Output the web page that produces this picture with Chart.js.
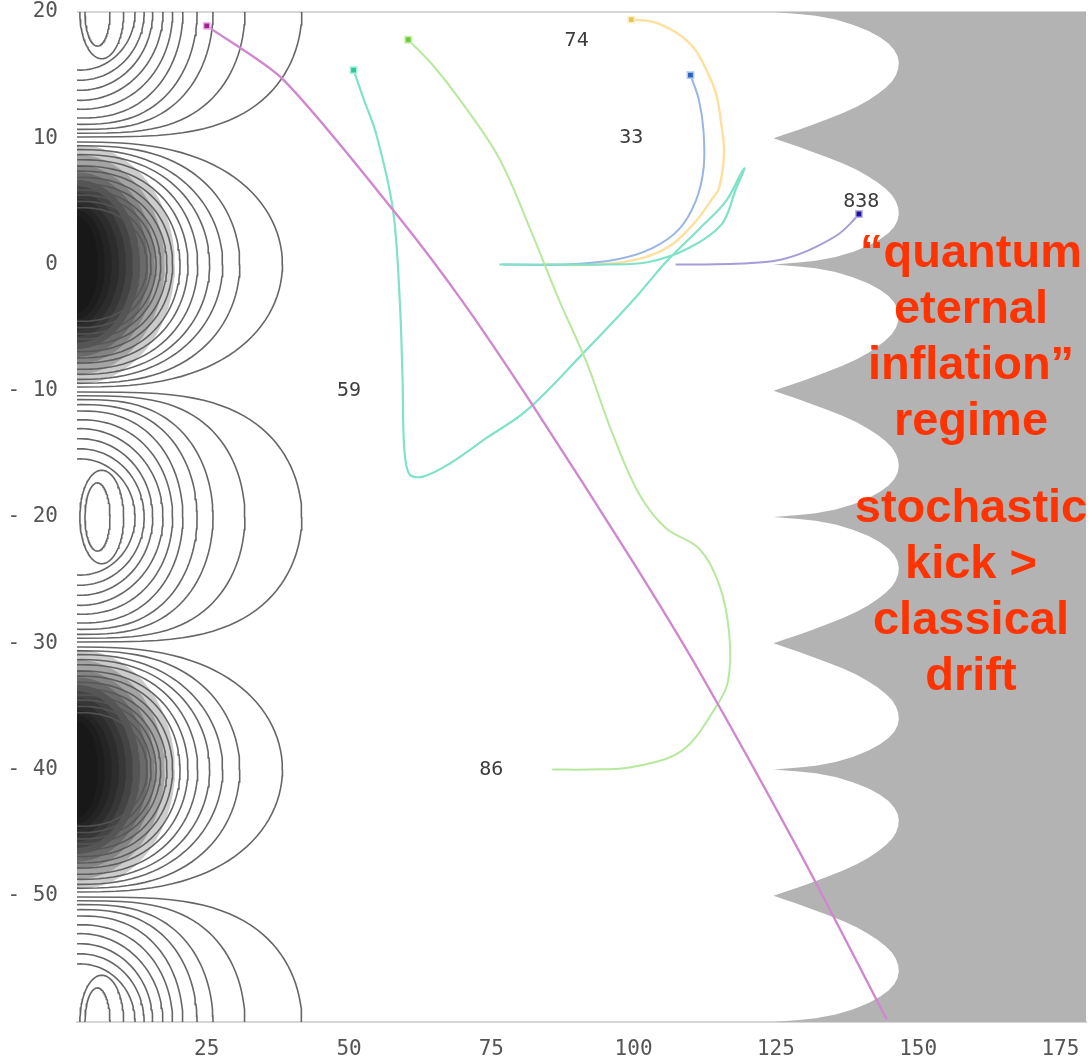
<!DOCTYPE html>
<html>
<head>
<meta charset="utf-8">
<script src="https://cdn.jsdelivr.net/npm/chart.js@4.4.1/dist/chart.umd.min.js"></script>
<style>
  body { margin: 0; background: #fff; }
  .wrap { position: relative; width: 1092px; height: 1063px; }
  canvas { position: absolute; left: 0; top: 0; }
  .note {
    position: absolute; left: 851px; width: 240px; text-align: center;
    font-family: "Liberation Sans", Arial, sans-serif; font-weight: bold;
    font-size: 47px; line-height: 56px; color: #ff3300;
  }
</style>
</head>
<body>
<div class="wrap">
  <canvas id="myChart" width="1092" height="1063"></canvas>
  <div class="note" style="top:223px">“quantum<br>eternal<br>inflation”<br>regime</div>
  <div class="note" style="top:478px">stochastic<br>kick &gt;<br>classical<br>drift</div>
</div>
<script>
// axes
const xTicks = [25, 50, 75, 100, 125, 150, 175];
const yTicks = [-50, -40, -30, -20, -10, 0, 10, 20];
const yTickLabels = ['- 50', '- 40', '- 30', '- 20', '- 10', '0', '10', '20'];

// trajectories
const magX = [25, 38.3, 58.3, 69.9, 82.2, 99.8, 111.5, 129, 144.5];
const magY = [18.9, 14.7, 4, -2.9, -11.1, -23.5, -32.2, -46.4, -59.8];

const greenX = [60.4, 64.7, 69.4, 76.4, 82.2, 86.9, 91.7, 96.3, 101, 105.7, 111.5, 115, 116.8, 116.6, 114.4, 108.5, 99.8, 92, 85.7];
const greenY = [17.8, 15.8, 13.1, 8.4, 2.4, -2.8, -7.7, -13.4, -18.2, -20.9, -22.5, -25.3, -29.2, -33, -35.1, -38.5, -39.8, -40, -40];

const cyanX = [50.8, 52.5, 54.8, 57.7, 58.9, 59.4, 59.7, 60.6, 63, 67.6, 74.3, 81.1, 91, 99.8, 105.7, 111.5, 116.2, 119, 119.5, 118, 115.5, 109.7, 102.7, 95, 86, 76.4];
const cyanY = [15.4, 13.2, 10.3, 4.4, -2.7, -9, -14.5, -16.6, -16.8, -15.8, -13.7, -11.6, -7.1, -2.9, 0.2, 2.8, 5, 7.3, 7.6, 6, 3.2, 1.3, 0.2, 0, 0, 0];

const blueX = [110, 111.5, 112.3, 112.3, 110.9, 108, 103.3, 97, 88, 77];
const blueY = [15, 13, 10.5, 7.6, 5, 2.8, 1.3, 0.4, 0, 0];

const orangeX = [99.6, 103.5, 107.4, 110.5, 112.7, 114.5, 115.3, 115.9, 115, 113.8, 110.9, 106.8, 101.5, 94, 84];
const orangeY = [19.4, 19.2, 18.4, 17.2, 15.5, 13.5, 11.5, 8.9, 6, 5.2, 3.4, 1.6, 0.5, 0, 0];

const purpleX = [139.6, 138, 136, 132.5, 129, 126, 123.2, 118, 111.5, 107.4];
const purpleY = [4, 3.2, 2.4, 1.5, 0.8, 0.4, 0.2, 0.05, 0, 0];

const pathLabels = ['74', '33', '59', '86', '838'];
const pathLabelX = [90, 99.6, 50, 75, 140];
const pathLabelY = [17.7, 10, -10, -40, 5];

// potential contours, one lobe every 20 units
const lobeY = [20, 0, -20, -40, -60];
const lobeDark = [false, true, false, true, false];

const lightLeft  = [3.6, 2.7, -6.8, -8.4, -9.9, -11.7, -13.4, -15.2, -17.7, -20.5, -26.1, -36.1];
const lightRight = [8.0, 10.4, 12.4, 14.0, 15.5, 17.3, 19.0, 20.8, 23.3, 26.1, 31.7, 41.7];
const lightHalf  = [2.7, 3.7, 4.6, 5.4, 6.2, 7.0, 7.7, 8.4, 8.9, 9.3, 9.6, 9.9];
const lightPow   = [2, 2, 2, 2, 2, 2, 2.2, 2.4, 2.6, 2.8, 3.2, 3.5];

const darkRight = [38.3, 30.8, 27.8, 25.5, 23.4, 21.7, 20.3, 19.0, 18.0, 16.9, 16.1, 15.2, 14.5];
const darkHalf  = [9.7, 9.4, 9.1, 8.7, 8.3, 7.8, 7.4, 6.9, 6.4, 5.9, 5.5, 5.0, 4.5];

const shadeRight = [19.4, 17.6, 15.9, 14.7, 13.3, 12.0, 10.8, 9.6, 8.3, 7.1, 5.9];
const shadeHalf  = [9.5, 8.7, 7.9, 7.3, 6.7, 6.2, 5.7, 5.2, 4.7, 4.3, 3.8];

// grey region edge: one half period, from a wide spike (0) to a needle spike (10)
const edgeStep = [0, 0.3, 0.6, 1, 1.5, 2, 2.5, 3, 3.5, 4, 4.5, 5, 5.5, 6, 6.5, 7, 7.5, 8, 8.5, 9, 9.4, 9.7, 9.85, 10];
const edgeX = [124.6, 126.5, 128.5, 131, 134, 136.8, 139.2, 141.2, 142.9, 144.3, 145.4, 146.1, 146.5, 146.6, 146.4, 145.8, 144.8, 143.3, 141.3, 138.5, 135.5, 132, 129, 124.6];
const wedgeY = [10, -10, -30, -50];


const CX = 2.8;

function ring(left, right, cy, b, p) {
  const cx = (left + right) / 2, a = (right - left) / 2;
  const pts = [];
  for (let k = 0; k <= 120; k++) {
    const t = k / 120 * Math.PI * 2;
    const c = Math.cos(t);
    pts.push({ x: cx + a * Math.sign(c) * Math.pow(Math.abs(c), 2 / p), y: cy + b * Math.sin(t) });
  }
  return pts;
}

function zip(xs, ys) {
  return xs.map((v, i) => ({ x: v, y: ys[i] }));
}

// grey region
const greyPts = [{ x: 185, y: 20 }];
wedgeY.forEach(w => {
  for (let i = edgeStep.length - 1; i >= 0; i--) greyPts.push({ x: edgeX[i], y: w + edgeStep[i] });
  for (let i = 1; i < edgeStep.length; i++) greyPts.push({ x: edgeX[i], y: w - edgeStep[i] });
});
greyPts.push({ x: 185, y: -60 });

const datasets = [];
datasets.push({
  data: greyPts, showLine: true, fill: 'shape', backgroundColor: '#b3b3b3',
  borderWidth: 0, pointRadius: 0, tension: 0, order: 100
});

lobeY.forEach((cy, i) => {
  if (lobeDark[i]) {
    shadeRight.forEach((r, j) => {
      datasets.push({
        data: ring(2.2 - (r - 2.2), r, cy, shadeHalf[j], 2), showLine: true, fill: 'shape',
        backgroundColor: 'rgba(0,0,0,0.2)', borderWidth: 0, pointRadius: 0, tension: 0, order: 90
      });
    });
    darkRight.forEach((r, j) => {
      datasets.push({
        data: ring(CX - (r - CX), r, cy, darkHalf[j], j < 2 ? 2.6 : 2.3), showLine: true,
        borderColor: 'rgba(85,85,85,0.9)', borderWidth: 1.6, pointRadius: 0, tension: 0, order: 80
      });
    });
  } else {
    lightRight.forEach((r, j) => {
      datasets.push({
        data: ring(lightLeft[j], r, cy, lightHalf[j], lightPow[j]), showLine: true,
        borderColor: 'rgba(85,85,85,0.9)', borderWidth: 1.6, pointRadius: 0, tension: 0, order: 80
      });
    });
  }
});

const paths = [
  { x: magX, y: magY, line: '#cf88cf', dot: '#a0208e', halo: '#f0b8ec', w: 2.4, t: 0.25 },
  { x: greenX, y: greenY, line: '#b6e89e', dot: '#6cc83c', halo: '#c8f0a8', w: 2, t: 0.35 },
  { x: cyanX, y: cyanY, line: '#80e2c8', dot: '#2cc79a', halo: '#a8f0dc', w: 2.2, t: 0.35 },
  { x: blueX, y: blueY, line: '#98b6e2', dot: '#2a64b8', halo: '#b0cdf0', w: 2, t: 0.35 },
  { x: orangeX, y: orangeY, line: '#ffdf9e', dot: '#e6c45a', halo: '#fff0c0', w: 2.4, t: 0.35 },
  { x: purpleX, y: purpleY, line: '#a69cd8', dot: '#1e1496', halo: '#b8b0f0', w: 2, t: 0.35 }
];
paths.forEach(p => {
  datasets.push({
    data: zip(p.x, p.y), showLine: true, borderColor: p.line, borderWidth: p.w, tension: p.t,
    pointStyle: 'rect', pointRadius: ctx => ctx.dataIndex === 0 ? 4.5 : 0,
    pointBackgroundColor: p.dot, pointBorderColor: p.halo, pointBorderWidth: 1.5, order: 10
  });
});

const pathLabelPlugin = {
  id: 'pathLabels',
  afterDatasetsDraw(chart) {
    const { ctx, scales: { x, y } } = chart;
    ctx.save();
    ctx.font = '20px "DejaVu Sans Mono"';
    ctx.fillStyle = '#3c3c3c';
    ctx.textAlign = 'center';
    ctx.textBaseline = 'middle';
    pathLabels.forEach((t, i) => ctx.fillText(t, x.getPixelForValue(pathLabelX[i]), y.getPixelForValue(pathLabelY[i])));
    ctx.restore();
  }
};

const config = {
  type: 'scatter',
  data: { datasets: datasets },
  options: {
    responsive: false,
    animation: false,
    events: [],
    layout: { padding: { top: 12, right: 4, left: 0, bottom: 0 } },
    plugins: { legend: { display: false }, tooltip: { enabled: false } },
    scales: {
      x: {
        type: 'linear', min: 2.2, max: 179.5,
        afterBuildTicks: s => { s.ticks = xTicks.map(v => ({ value: v })); },
        afterFit: s => { s.height = 41; s.paddingLeft = 0; s.paddingRight = 0; },
        grid: { display: false },
        border: { display: true, color: '#d6d6d6', width: 2 },
        ticks: { font: { family: 'DejaVu Sans Mono', size: 21 }, color: '#555', padding: 7, maxRotation: 0, autoSkip: false }
      },
      y: {
        type: 'linear', min: -60, max: 20,
        afterBuildTicks: s => { s.ticks = yTicks.map(v => ({ value: v })); },
        afterFit: s => { s.width = 77; s.paddingTop = 0; s.paddingBottom = 0; },
        grid: {
          drawTicks: false, lineWidth: 2,
          color: c => (c.tick && c.tick.value === 20) ? '#d6d6d6' : 'rgba(0,0,0,0)'
        },
        border: { display: false },
        ticks: {
          callback: (v, i) => yTickLabels[i],
          font: { family: 'DejaVu Sans Mono', size: 21 }, color: '#555', padding: 19, autoSkip: false
        }
      }
    }
  },
  plugins: [pathLabelPlugin]
};

const myChart = new Chart(document.getElementById('myChart'), config);
</script>
</body>
</html>
